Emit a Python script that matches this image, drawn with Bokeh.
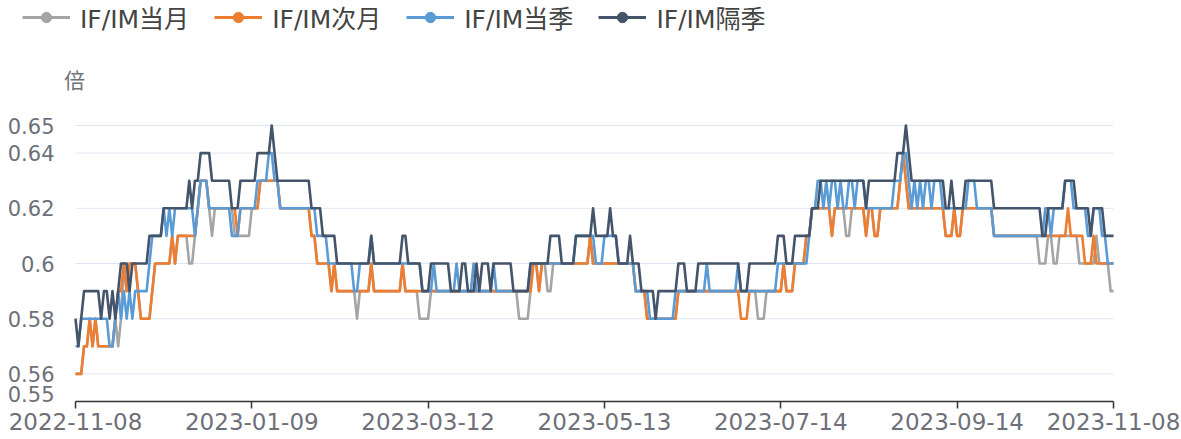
import pandas as pd
from bokeh.plotting import figure
from bokeh.models import (Range1d, FixedTicker, Legend, LegendItem, Label, ColumnDataSource,
                          LinearAxis)
from bokeh.embed import file_html
from bokeh.resources import INLINE

# ---------------- data ----------------
dates = [d.strftime("%Y-%m-%d") for d in pd.date_range("2022-11-08", "2023-11-08", freq="D")]
x_tick_labels = ["2022-11-08", "2023-01-09", "2023-03-12", "2023-05-13",
                 "2023-07-14", "2023-09-14", "2023-11-08"]
y_ticks = [0.55, 0.56, 0.58, 0.6, 0.62, 0.64, 0.65]
y_tick_labels = ["0.55", "0.56", "0.58", "0.6", "0.62", "0.64", "0.65"]
y_min, y_max = 0.55, 0.65
y_unit = "倍"

series_names = ["IF/IM当月", "IF/IM次月", "IF/IM当季", "IF/IM隔季"]

if_im_m1 = [  # 当月
    0.56,0.56,0.56,0.57,0.57,0.58,0.57,0.58,0.57,0.57,
    0.57,0.57,0.57,0.57,0.58,0.57,0.58,0.60,0.59,0.60,
    0.60,0.60,0.59,0.58,0.58,0.58,0.58,0.59,0.60,0.60,
    0.60,0.60,0.60,0.60,0.61,0.60,0.61,0.61,0.61,0.61,
    0.60,0.60,0.61,0.62,0.63,0.63,0.63,0.62,0.61,0.62,
    0.62,0.62,0.62,0.62,0.62,0.62,0.61,0.61,0.61,0.61,
    0.61,0.61,0.62,0.62,0.62,0.63,0.63,0.63,0.63,0.63,
    0.63,0.63,0.62,0.62,0.62,0.62,0.62,0.62,0.62,0.62,
    0.62,0.62,0.62,0.61,0.61,0.60,0.60,0.60,0.60,0.60,
    0.59,0.60,0.59,0.59,0.59,0.59,0.59,0.59,0.59,0.58,
    0.59,0.59,0.59,0.59,0.60,0.59,0.59,0.59,0.59,0.59,
    0.59,0.59,0.59,0.59,0.59,0.60,0.59,0.59,0.59,0.59,
    0.59,0.58,0.58,0.58,0.58,0.59,0.59,0.59,0.59,0.59,
    0.59,0.59,0.59,0.59,0.59,0.59,0.59,0.59,0.59,0.59,
    0.59,0.59,0.59,0.59,0.59,0.59,0.59,0.59,0.59,0.59,
    0.59,0.59,0.59,0.59,0.59,0.59,0.58,0.58,0.58,0.58,
    0.59,0.60,0.60,0.59,0.60,0.60,0.59,0.59,0.60,0.60,
    0.60,0.60,0.60,0.60,0.60,0.60,0.60,0.60,0.60,0.60,
    0.60,0.61,0.60,0.60,0.60,0.60,0.60,0.60,0.60,0.60,
    0.60,0.60,0.60,0.60,0.60,0.60,0.60,0.59,0.59,0.59,
    0.59,0.58,0.58,0.58,0.58,0.58,0.58,0.58,0.58,0.58,
    0.58,0.58,0.59,0.59,0.59,0.59,0.59,0.59,0.59,0.59,
    0.59,0.59,0.59,0.59,0.59,0.59,0.59,0.59,0.59,0.59,
    0.59,0.59,0.59,0.59,0.59,0.59,0.59,0.59,0.59,0.59,
    0.58,0.58,0.58,0.59,0.59,0.59,0.59,0.59,0.59,0.60,
    0.59,0.59,0.59,0.60,0.60,0.60,0.60,0.61,0.61,0.62,
    0.62,0.62,0.62,0.62,0.62,0.62,0.61,0.62,0.62,0.62,
    0.62,0.61,0.61,0.62,0.62,0.62,0.62,0.62,0.61,0.62,
    0.62,0.61,0.61,0.62,0.62,0.62,0.62,0.62,0.62,0.62,
    0.63,0.64,0.63,0.62,0.62,0.62,0.62,0.62,0.62,0.62,
    0.62,0.62,0.62,0.62,0.62,0.62,0.61,0.61,0.61,0.62,
    0.61,0.61,0.62,0.62,0.62,0.62,0.62,0.62,0.62,0.62,
    0.62,0.62,0.62,0.61,0.61,0.61,0.61,0.61,0.61,0.61,
    0.61,0.61,0.61,0.61,0.61,0.61,0.61,0.61,0.61,0.60,
    0.60,0.60,0.61,0.61,0.60,0.60,0.61,0.61,0.61,0.61,
    0.61,0.61,0.61,0.60,0.60,0.60,0.60,0.60,0.60,0.61,
    0.60,0.60,0.60,0.60,0.59,0.59,
]

if_im_m2 = [  # 次月
    0.56,0.56,0.56,0.57,0.57,0.58,0.57,0.58,0.57,0.57,
    0.57,0.57,0.57,0.57,0.58,0.59,0.59,0.60,0.59,0.60,
    0.60,0.60,0.59,0.58,0.58,0.58,0.58,0.59,0.60,0.60,
    0.60,0.60,0.60,0.60,0.61,0.60,0.61,0.61,0.61,0.61,
    0.61,0.61,0.61,0.62,0.63,0.63,0.63,0.62,0.62,0.62,
    0.62,0.62,0.62,0.62,0.62,0.62,0.62,0.61,0.62,0.62,
    0.62,0.62,0.62,0.62,0.62,0.63,0.63,0.63,0.63,0.63,
    0.63,0.63,0.62,0.62,0.62,0.62,0.62,0.62,0.62,0.62,
    0.62,0.62,0.62,0.61,0.61,0.60,0.60,0.60,0.60,0.60,
    0.59,0.60,0.59,0.59,0.59,0.59,0.59,0.59,0.59,0.59,
    0.59,0.59,0.59,0.59,0.60,0.59,0.59,0.59,0.59,0.59,
    0.59,0.59,0.59,0.59,0.59,0.60,0.59,0.59,0.59,0.59,
    0.59,0.59,0.59,0.59,0.59,0.59,0.59,0.59,0.59,0.59,
    0.59,0.59,0.59,0.59,0.59,0.59,0.59,0.59,0.59,0.59,
    0.59,0.59,0.59,0.59,0.59,0.59,0.59,0.59,0.59,0.59,
    0.59,0.59,0.59,0.59,0.59,0.59,0.59,0.59,0.59,0.59,
    0.59,0.60,0.60,0.59,0.60,0.60,0.60,0.60,0.60,0.60,
    0.60,0.60,0.60,0.60,0.60,0.60,0.60,0.60,0.60,0.60,
    0.60,0.61,0.60,0.60,0.60,0.60,0.60,0.60,0.60,0.60,
    0.60,0.60,0.60,0.60,0.60,0.60,0.60,0.59,0.59,0.59,
    0.59,0.58,0.58,0.58,0.58,0.58,0.58,0.58,0.58,0.58,
    0.58,0.58,0.59,0.59,0.59,0.59,0.59,0.59,0.59,0.59,
    0.59,0.59,0.59,0.59,0.59,0.59,0.59,0.59,0.59,0.59,
    0.59,0.59,0.59,0.59,0.58,0.58,0.58,0.59,0.59,0.59,
    0.59,0.59,0.59,0.59,0.59,0.59,0.59,0.59,0.59,0.60,
    0.59,0.59,0.59,0.60,0.60,0.60,0.60,0.61,0.61,0.62,
    0.62,0.62,0.62,0.62,0.62,0.62,0.61,0.62,0.62,0.62,
    0.62,0.62,0.62,0.62,0.62,0.62,0.62,0.62,0.61,0.62,
    0.62,0.61,0.61,0.62,0.62,0.62,0.62,0.62,0.62,0.62,
    0.63,0.64,0.63,0.62,0.62,0.62,0.62,0.62,0.62,0.62,
    0.62,0.62,0.62,0.62,0.62,0.62,0.61,0.61,0.61,0.62,
    0.61,0.61,0.62,0.62,0.62,0.62,0.62,0.62,0.62,0.62,
    0.62,0.62,0.62,0.61,0.61,0.61,0.61,0.61,0.61,0.61,
    0.61,0.61,0.61,0.61,0.61,0.61,0.61,0.61,0.61,0.61,
    0.61,0.61,0.61,0.61,0.61,0.61,0.61,0.61,0.61,0.62,
    0.61,0.61,0.61,0.61,0.61,0.60,0.60,0.60,0.61,0.60,
    0.60,0.60,0.60,0.60,0.60,0.60,
]

if_im_q1 = [  # 当季
    0.57,0.57,0.58,0.58,0.58,0.58,0.58,0.58,0.58,0.58,
    0.58,0.58,0.57,0.57,0.58,0.59,0.58,0.59,0.58,0.59,
    0.58,0.59,0.59,0.59,0.59,0.59,0.60,0.61,0.61,0.61,
    0.61,0.62,0.61,0.62,0.61,0.62,0.62,0.62,0.62,0.62,
    0.62,0.62,0.61,0.62,0.63,0.63,0.63,0.62,0.62,0.62,
    0.62,0.62,0.62,0.62,0.62,0.61,0.61,0.61,0.62,0.62,
    0.62,0.62,0.62,0.62,0.63,0.63,0.63,0.63,0.64,0.64,
    0.63,0.63,0.62,0.62,0.62,0.62,0.62,0.62,0.62,0.62,
    0.62,0.62,0.62,0.62,0.62,0.61,0.61,0.61,0.61,0.60,
    0.60,0.60,0.60,0.60,0.60,0.60,0.60,0.60,0.59,0.59,
    0.60,0.60,0.60,0.60,0.61,0.60,0.60,0.60,0.60,0.60,
    0.60,0.60,0.60,0.60,0.60,0.60,0.60,0.60,0.60,0.60,
    0.60,0.60,0.59,0.59,0.59,0.59,0.60,0.59,0.59,0.59,
    0.59,0.59,0.59,0.59,0.60,0.59,0.59,0.59,0.59,0.59,
    0.60,0.59,0.59,0.59,0.59,0.59,0.59,0.60,0.59,0.59,
    0.59,0.59,0.59,0.59,0.59,0.59,0.59,0.59,0.59,0.59,
    0.60,0.60,0.60,0.60,0.60,0.60,0.60,0.60,0.60,0.60,
    0.60,0.60,0.60,0.60,0.60,0.60,0.61,0.61,0.61,0.61,
    0.61,0.61,0.61,0.60,0.60,0.60,0.61,0.61,0.61,0.61,
    0.61,0.60,0.60,0.60,0.60,0.60,0.60,0.59,0.59,0.59,
    0.59,0.59,0.58,0.58,0.58,0.58,0.58,0.58,0.58,0.58,
    0.58,0.59,0.59,0.59,0.59,0.59,0.59,0.59,0.59,0.59,
    0.59,0.59,0.60,0.59,0.59,0.59,0.59,0.59,0.59,0.59,
    0.59,0.59,0.59,0.60,0.59,0.59,0.59,0.59,0.59,0.59,
    0.59,0.59,0.59,0.59,0.59,0.59,0.59,0.60,0.60,0.60,
    0.60,0.60,0.60,0.60,0.60,0.60,0.60,0.60,0.61,0.62,
    0.62,0.63,0.63,0.62,0.63,0.62,0.63,0.63,0.62,0.63,
    0.62,0.62,0.63,0.63,0.62,0.63,0.63,0.63,0.62,0.62,
    0.62,0.62,0.62,0.62,0.62,0.62,0.62,0.62,0.63,0.63,
    0.63,0.64,0.64,0.63,0.62,0.63,0.62,0.63,0.62,0.63,
    0.63,0.62,0.63,0.63,0.63,0.62,0.62,0.62,0.62,0.62,
    0.62,0.62,0.62,0.62,0.63,0.63,0.63,0.62,0.62,0.62,
    0.62,0.62,0.62,0.61,0.61,0.61,0.61,0.61,0.61,0.61,
    0.61,0.61,0.61,0.61,0.61,0.61,0.61,0.61,0.61,0.61,
    0.61,0.62,0.62,0.61,0.62,0.62,0.62,0.62,0.63,0.63,
    0.63,0.62,0.62,0.62,0.62,0.62,0.61,0.61,0.62,0.62,
    0.62,0.61,0.61,0.60,0.60,0.60,
]

if_im_q2 = [  # 隔季
    0.58,0.57,0.58,0.59,0.59,0.59,0.59,0.59,0.59,0.58,
    0.59,0.59,0.58,0.59,0.58,0.59,0.60,0.60,0.60,0.59,
    0.60,0.60,0.60,0.60,0.60,0.60,0.61,0.61,0.61,0.61,
    0.61,0.62,0.62,0.62,0.62,0.62,0.62,0.62,0.62,0.62,
    0.63,0.62,0.63,0.63,0.64,0.64,0.64,0.64,0.63,0.63,
    0.63,0.63,0.63,0.63,0.63,0.62,0.62,0.62,0.63,0.63,
    0.63,0.63,0.63,0.63,0.64,0.64,0.64,0.64,0.64,0.65,
    0.64,0.63,0.63,0.63,0.63,0.63,0.63,0.63,0.63,0.63,
    0.63,0.63,0.63,0.62,0.62,0.62,0.62,0.61,0.61,0.61,
    0.61,0.61,0.60,0.60,0.60,0.60,0.60,0.60,0.60,0.60,
    0.60,0.60,0.60,0.60,0.61,0.60,0.60,0.60,0.60,0.60,
    0.60,0.60,0.60,0.60,0.60,0.61,0.61,0.60,0.60,0.60,
    0.60,0.60,0.59,0.59,0.59,0.60,0.60,0.60,0.60,0.60,
    0.60,0.60,0.59,0.59,0.59,0.59,0.60,0.60,0.59,0.59,
    0.59,0.60,0.59,0.60,0.60,0.60,0.59,0.60,0.60,0.60,
    0.60,0.60,0.60,0.60,0.59,0.59,0.59,0.59,0.59,0.59,
    0.60,0.60,0.60,0.60,0.60,0.60,0.60,0.61,0.61,0.61,
    0.61,0.60,0.60,0.60,0.60,0.60,0.61,0.61,0.61,0.61,
    0.61,0.61,0.62,0.61,0.61,0.61,0.61,0.61,0.62,0.61,
    0.61,0.60,0.60,0.60,0.60,0.61,0.60,0.60,0.60,0.59,
    0.59,0.59,0.59,0.59,0.58,0.59,0.59,0.59,0.59,0.59,
    0.59,0.59,0.60,0.60,0.60,0.59,0.59,0.59,0.59,0.60,
    0.60,0.60,0.60,0.60,0.60,0.60,0.60,0.60,0.60,0.60,
    0.60,0.60,0.60,0.60,0.59,0.59,0.59,0.60,0.60,0.60,
    0.60,0.60,0.60,0.60,0.60,0.60,0.60,0.61,0.61,0.61,
    0.60,0.60,0.60,0.61,0.61,0.61,0.61,0.61,0.61,0.62,
    0.62,0.62,0.63,0.63,0.63,0.63,0.63,0.63,0.63,0.63,
    0.63,0.63,0.63,0.63,0.63,0.63,0.63,0.63,0.62,0.63,
    0.63,0.63,0.63,0.63,0.63,0.63,0.63,0.63,0.63,0.64,
    0.64,0.64,0.65,0.64,0.63,0.63,0.63,0.63,0.63,0.63,
    0.63,0.63,0.63,0.63,0.63,0.63,0.62,0.62,0.63,0.62,
    0.62,0.62,0.62,0.63,0.63,0.63,0.63,0.63,0.63,0.63,
    0.63,0.63,0.63,0.62,0.62,0.62,0.62,0.62,0.62,0.62,
    0.62,0.62,0.62,0.62,0.62,0.62,0.62,0.62,0.62,0.62,
    0.61,0.61,0.62,0.62,0.62,0.62,0.62,0.62,0.63,0.63,
    0.63,0.63,0.62,0.62,0.62,0.62,0.62,0.61,0.62,0.62,
    0.62,0.62,0.61,0.61,0.61,0.61,
]

series_values = [if_im_m1, if_im_m2, if_im_q1, if_im_q2]
colors = ["#a5a5a5", "#ed7d31", "#5b9bd5", "#44546a"]

# ---------------- geometry (pixels) ----------------
FONT = "'DejaVu Sans', 'Noto Sans CJK SC'"
W, H = 1181, 439
AX_L, AX_R, AX_T, AX_B = 75, 1113, 125, 401    # plotting area in the canvas
MIN_LABEL_LIFT = 8                              # the lowest y label sits a little higher
n = len(dates)
x_idx = list(range(n))

# ranges extended so that the frame covers the whole canvas
kx = (AX_R - AX_L) / (n - 1)
ky = (AX_B - AX_T) / (y_max - y_min)
x_range = Range1d(-AX_L / kx, (n - 1) + (W - AX_R) / kx)
y_range = Range1d(y_min - (H - AX_B) / ky, y_max + AX_T / ky)

p = figure(width=W, height=H, output_backend="svg", toolbar_location=None, title=None,
           x_range=x_range, y_range=y_range, x_axis_location=None, y_axis_location=None,
           min_border_left=0, min_border_right=0, min_border_top=0, min_border_bottom=0)
p.outline_line_color = None
p.grid.visible = False
lift = MIN_LABEL_LIFT / ky
p.extra_y_ranges = {"lifted": Range1d(y_range.start - lift, y_range.end - lift)}

# horizontal grid lines across the plotting area
p.segment(x0=[0] * len(y_ticks), x1=[n - 1] * len(y_ticks), y0=y_ticks, y1=y_ticks,
          line_color="#e0e6f1", line_width=1)

ylabel_style = dict(axis_line_color=None, major_tick_line_color=None, minor_tick_line_color=None,
                    major_label_text_font=FONT, major_label_text_font_size="21px",
                    major_label_text_color="#6e7079", major_label_standoff=15)
# y axis at the left of the plotting area (all but the minimum label)
yaxis = LinearAxis(fixed_location=0, ticker=FixedTicker(ticks=y_ticks[1:]),
                   major_label_overrides=dict(zip(y_ticks[1:], y_tick_labels[1:])),
                   **ylabel_style)
p.add_layout(yaxis, "left")
# the minimum label, lifted above the x axis line
yaxis_min = LinearAxis(fixed_location=0, y_range_name="lifted",
                       ticker=FixedTicker(ticks=y_ticks[:1]),
                       major_label_overrides=dict(zip(y_ticks[:1], y_tick_labels[:1])),
                       **ylabel_style)
p.add_layout(yaxis_min, "left")

# x axis at the bottom of the plotting area
x_tick_pos = [dates.index(t) for t in x_tick_labels]
xaxis = LinearAxis(fixed_location=y_min, bounds=(0, n - 1),
                   ticker=FixedTicker(ticks=x_tick_pos),
                   major_label_overrides={pos: lbl for pos, lbl in zip(x_tick_pos, x_tick_labels)},
                   axis_line_color="#333333", axis_line_width=1.5,
                   major_tick_line_color="#333333", major_tick_line_width=1.5,
                   major_tick_in=0, major_tick_out=7, minor_tick_line_color=None,
                   major_label_text_font=FONT, major_label_text_font_size="23px",
                   major_label_text_color="#6e7079", major_label_standoff=4)
p.add_layout(xaxis, "below")

items = []
for name, vals, col in zip(series_names, series_values, colors):
    src = ColumnDataSource(dict(x=x_idx, y=vals))
    p.line("x", "y", source=src, line_color=col, line_width=2.6, line_join="round")
    lr = p.line(x=[float("nan")], y=[float("nan")], line_color=col, line_width=3)
    sr = p.scatter(x=[float("nan")], y=[float("nan")], size=16, marker="circle",
                   fill_color=col, line_color=col)
    items.append(LegendItem(label=name, renderers=[lr, sr]))

LEG_H = 26
legend = Legend(items=items, orientation="horizontal",
                location=(22, H - (22 + LEG_H // 2)),
                glyph_width=48, glyph_height=LEG_H, label_standoff=10, spacing=25,
                padding=0, margin=0, border_line_color=None, background_fill_alpha=0,
                label_text_font=FONT, label_text_font_size="25px",
                label_text_color="#444444", label_height=LEG_H)
p.add_layout(legend, "center")

unit = Label(x=74, y=H - 80, x_units="screen", y_units="screen",
             text=y_unit, text_font=FONT, text_font_size="21px",
             text_color="#6e7079", text_align="center", text_baseline="middle")
p.add_layout(unit)

open("out.html", "w").write(file_html(p, INLINE))
